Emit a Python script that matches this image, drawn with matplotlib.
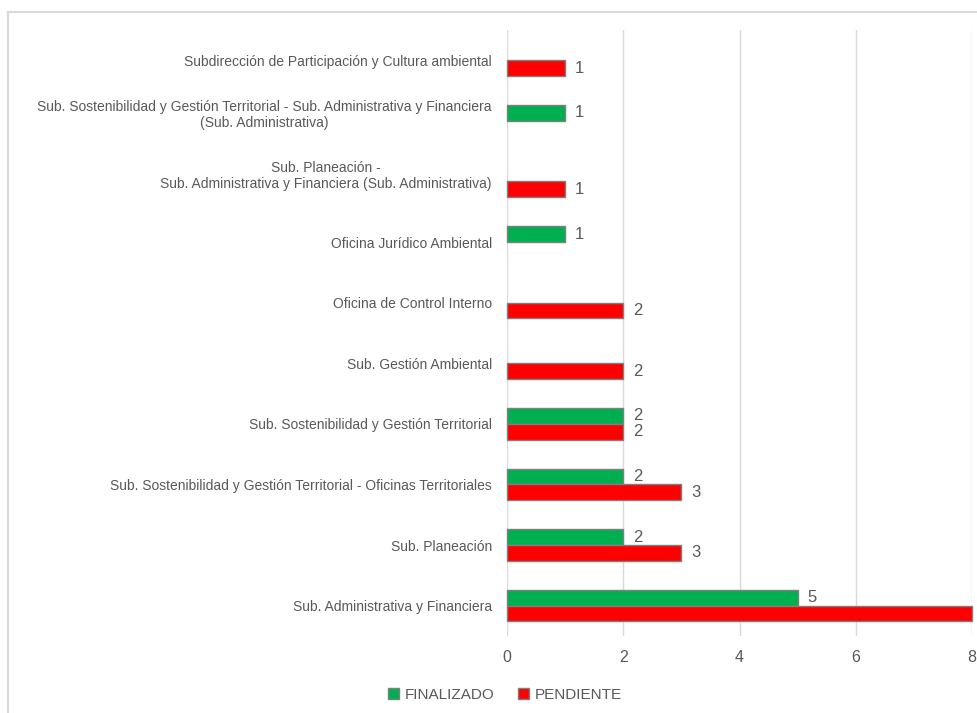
import matplotlib
matplotlib.use("Agg")
import matplotlib.pyplot as plt
import matplotlib.transforms as mtransforms
import numpy as np

plt.rcParams["font.family"] = ["Liberation Sans", "DejaVu Sans"]

categorias = [
    "Sub. Administrativa y Financiera",
    "Sub. Planeación",
    "Sub. Sostenibilidad y Gestión Territorial - Oficinas Territoriales",
    "Sub. Sostenibilidad y Gestión Territorial",
    "Sub. Gestión Ambiental",
    "Oficina de Control Interno",
    "Oficina Jurídico Ambiental",
    "Sub. Planeación -\nSub. Administrativa y Financiera (Sub. Administrativa)",
    "Sub. Sostenibilidad y Gestión Territorial - Sub. Administrativa y Financiera\n(Sub. Administrativa)",
    "Subdirección de Participación y Cultura ambiental",
]
finalizado = [5, 2, 2, 2, 0, 0, 1, 0, 1, 0]
pendiente = [8, 3, 3, 2, 2, 2, 0, 1, 0, 1]
ticks_x = [0, 2, 4, 6, 8]

gris = "#595959"
fig = plt.figure(figsize=(9.77, 7.13), dpi=100)
ax = fig.add_axes([0.519, 0.108, 0.476, 0.850])

y = np.arange(len(categorias))
h = 0.26
fin = np.array(finalizado, dtype=float)
pen = np.array(pendiente, dtype=float)
mf = fin > 0
mp = pen > 0
bf = ax.barh(y[mf] + h / 2, fin[mf], height=h, color="#00b050", edgecolor="#7f7f7f",
             linewidth=1, label="FINALIZADO", zorder=3, clip_on=False)
bp = ax.barh(y[mp] - h / 2, pen[mp], height=h, color="#ff0000", edgecolor="#7f7f7f",
             linewidth=1, label="PENDIENTE", zorder=3, clip_on=False)
ax.bar_label(bf, padding=7, fontsize=12, color=gris)
ax.bar_label(bp, padding=7, fontsize=12, color=gris)

ax.set_xlim(0, 8)
ax.set_ylim(-0.5, len(categorias) - 0.5)
ax.set_xticks(ticks_x)
ax.set_yticks(y)
ax.set_yticklabels(categorias, multialignment="center")
ax.tick_params(axis="y", length=0, labelsize=10, labelcolor=gris, pad=11)
ax.tick_params(axis="x", length=0, labelsize=11.5, labelcolor=gris, pad=10)
ax.grid(axis="x", color="#d9d9d9", linewidth=1, zorder=0)
for s in ax.spines.values():
    s.set_visible(False)

# las etiquetas de dos líneas van un poco más arriba
subir = mtransforms.ScaledTranslation(0, 6 / 72, fig.dpi_scale_trans)
for lab in ax.get_yticklabels():
    if "\n" in lab.get_text():
        lab.set_transform(lab.get_transform() + subir)

fig.legend(handles=[bf, bp], loc="center", bbox_to_anchor=(0.517, 0.025), ncol=2,
           frameon=False, fontsize=11, labelcolor=gris, handlelength=0.7,
           handleheight=0.7, handletextpad=0.4, columnspacing=1.5)

# marco del gráfico
fig.add_artist(plt.Line2D([8 / 977, 1], [1 - 12 / 713, 1 - 12 / 713], color="#d9d9d9", lw=1.5))
fig.add_artist(plt.Line2D([8 / 977, 8 / 977], [0, 1 - 12 / 713], color="#d9d9d9", lw=1.5))

fig.savefig("out.png", dpi=100)
